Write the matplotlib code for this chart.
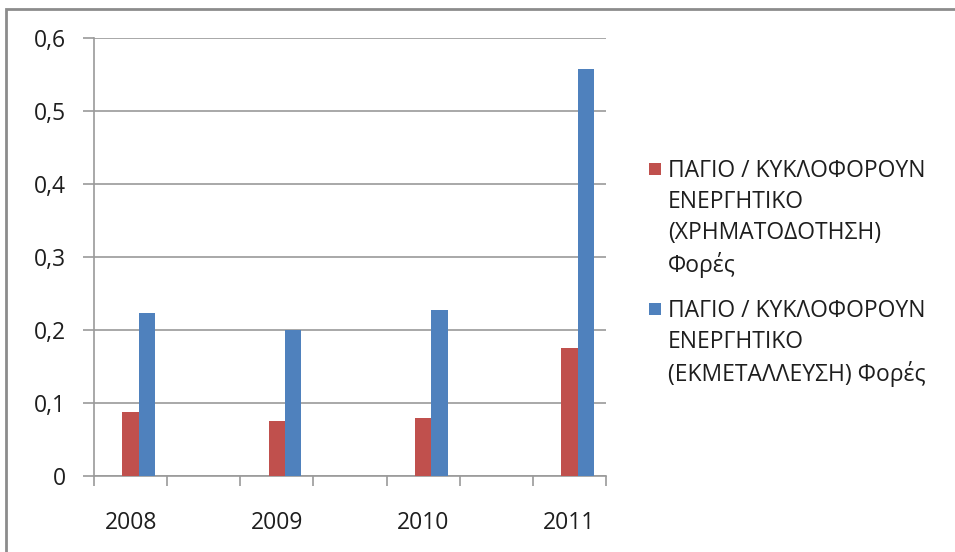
import matplotlib
matplotlib.use("Agg")
import matplotlib.pyplot as plt
from matplotlib.patches import Rectangle
import numpy as np

# Excel chart with 7 category slots, every other one empty
categories = ["2008", "", "2009", "", "2010", "", "2011"]
financing = [0.088, np.nan, 0.076, np.nan, 0.079, np.nan, 0.176]
operation = [0.223, np.nan, 0.200, np.nan, 0.228, np.nan, 0.557]
yticks = [0, 0.1, 0.2, 0.3, 0.4, 0.5, 0.6]
ytick_labels = ["0", "0,1", "0,2", "0,3", "0,4", "0,5", "0,6"]
legend_labels = [
    "ΠΑΓΙΟ / ΚΥΚΛΟΦΟΡΟΥΝ\nΕΝΕΡΓΗΤΙΚΟ\n(ΧΡΗΜΑΤΟΔΟΤΗΣΗ)\nΦορές",
    "ΠΑΓΙΟ / ΚΥΚΛΟΦΟΡΟΥΝ\nΕΝΕΡΓΗΤΙΚΟ\n(ΕΚΜΕΤΑΛΛΕΥΣΗ) Φορές",
]

RED = "#C0504D"
BLUE = "#4F81BD"
GRID = "#9a9a9a"
TXT = "#1e1e1e"
FONT = "Open Sans"
FS = 16.5

plt.rcParams["font.family"] = [FONT, "DejaVu Sans"]

fig = plt.figure(figsize=(9.55, 5.52), dpi=100)
ax = fig.add_axes([94 / 955, 1 - 476 / 552, 512 / 955, 438 / 552])

x = np.arange(len(categories))
w = 0.223
ax.bar(x, financing, width=w, color=RED, zorder=3)
ax.bar(x + w, operation, width=w, color=BLUE, zorder=3)

ax.set_xlim(-0.5, len(categories) - 0.5)
ax.set_ylim(0, 0.6)
ax.set_yticks(yticks)
ax.set_yticklabels(ytick_labels)
ax.set_xticks(x)
ax.set_xticklabels(categories)
ax.set_xticks(np.arange(len(categories) + 1) - 0.5, minor=True)
ax.tick_params(axis="x", which="major", length=0, pad=25, labelsize=FS, labelcolor=TXT)
ax.tick_params(axis="x", which="minor", length=7, width=1.2, color=GRID, direction="out")
ax.tick_params(axis="y", length=8, width=1.2, color=GRID, pad=12.5, labelsize=FS, labelcolor=TXT)
ax.grid(axis="y", color=GRID, linewidth=1.2, zorder=0)
for s in ["top", "right"]:
    ax.spines[s].set_visible(False)
for s in ["left", "bottom"]:
    ax.spines[s].set_color(GRID)
    ax.spines[s].set_linewidth(1.2)

# legend drawn by hand so the squares sit on the first line
entries = [(RED, legend_labels[0], 169), (BLUE, legend_labels[1], 309)]
for color, label, ypx in entries:
    fig.patches.append(Rectangle((649 / 955, 1 - (ypx + 6) / 552), 12 / 955, 12 / 552,
                                 transform=fig.transFigure, facecolor=color, edgecolor="none"))
    fig.text(668 / 955, 1 - (ypx - 10) / 552, label, fontsize=FS, color=TXT,
             va="top", ha="left", linespacing=1.38)

# chart frame (cut off at right and bottom)
fig.patches.append(Rectangle((6 / 955, -0.05), 1.1, 1 - 9 / 552 + 0.05, transform=fig.transFigure,
                             facecolor="none", edgecolor="#8c8c8c", linewidth=2))

fig.savefig("out.png", dpi=100)
